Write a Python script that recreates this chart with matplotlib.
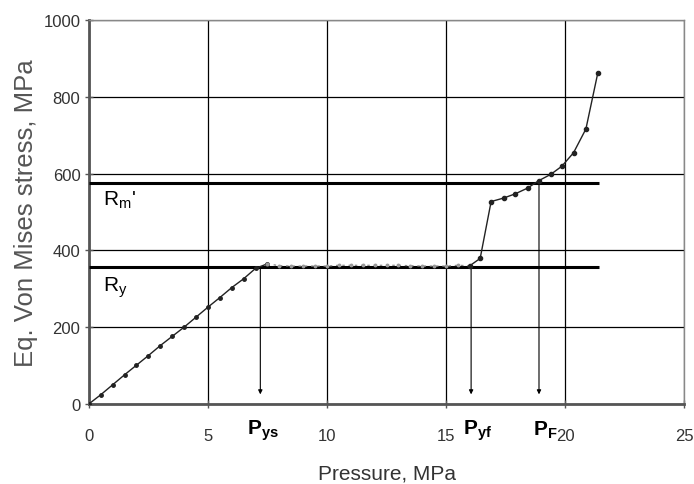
import numpy as np
import matplotlib.pyplot as plt

# data (pressure MPa, stress MPa)
p_elastic = [0, 0.5, 1.0, 1.5, 2.0, 2.5, 3.0, 3.5, 4.0, 4.5, 5.0, 5.5, 6.0, 6.5, 7.0, 7.5]
s_elastic = [0, 24, 50, 76, 101, 126, 152, 176, 200, 226, 252, 277, 303, 326, 353, 365]

p_plateau = [7.5, 8.0, 8.5, 9.0, 9.5, 10.0, 10.5, 11.0, 11.5, 12.0, 12.5, 13.0, 13.5, 14.0, 14.5, 15.0, 15.5, 16.0]
s_plateau = [365, 360, 359, 359, 359, 359, 361, 361, 361, 361, 361, 361, 360, 359, 359, 359, 361, 360]

p_hard = [16.0, 16.43, 16.89, 17.41, 17.9, 18.42, 18.88, 19.4, 19.86, 20.35, 20.87, 21.37]
s_hard = [360, 379, 527, 536, 547, 562, 581, 598, 619, 654, 716, 862]

Rm = 575
Ry = 357
limit_end = 21.4

P_ys = 7.2
P_yf = 16.05
P_F = 18.9

xticks = [0, 5, 10, 15, 20, 25]
yticks = [0, 200, 400, 600, 800, 1000]

fig = plt.figure(figsize=(6.94, 4.85), dpi=100)
ax = fig.add_axes([0.128, 0.165, 0.858, 0.792])

font = ['Liberation Sans', 'DejaVu Sans']
plt.rcParams['mathtext.fontset'] = 'custom'
plt.rcParams['mathtext.rm'] = 'Liberation Sans'
plt.rcParams['mathtext.bf'] = 'Liberation Sans:bold'

ax.plot(p_elastic, s_elastic, color='#222222', lw=1.0, marker='o', ms=2.5, zorder=4)
ax.plot(p_plateau, s_plateau, color='#888888', lw=0.9, ls=(0, (2, 3)), marker='o', ms=1.8,
        mfc='#999999', mec='#999999', zorder=4)
ax.plot(p_hard, s_hard, color='#222222', lw=1.0, marker='o', ms=3, zorder=4)

ax.hlines([Rm, Ry], 0, limit_end, colors='black', lw=2.2, zorder=3)

for px, top in [(P_ys, Ry), (P_yf, Ry), (P_F, Rm)]:
    ax.annotate('', xy=(px, 25), xytext=(px, top),
                arrowprops=dict(arrowstyle='-|>', color='black', lw=0.8,
                                mutation_scale=6, shrinkA=0, shrinkB=0), zorder=3)

ax.text(0.6, 532, r"R$_{\mathrm{m}}$'", fontsize=15, color='black', va='center', family=font)
ax.text(0.6, 305, r"R$_{\mathrm{y}}$", fontsize=15, color='black', va='center', family=font)

lab_y = -66
ax.text(6.64, lab_y, r"$\mathbf{P}_{\mathbf{ys}}$", fontsize=15, ha='left', va='center')
ax.text(15.72, lab_y, r"$\mathbf{P}_{\mathbf{yf}}$", fontsize=15, ha='left', va='center')
ax.text(18.65, lab_y, r"$\mathbf{P}_{\mathbf{F}}$", fontsize=15, ha='left', va='center')

ax.set_xlim(0, 25)
ax.set_ylim(0, 1000)
ax.set_xticks(xticks)
ax.set_yticks(yticks)
ax.set_xticklabels([str(t) for t in xticks], family=font, fontsize=12, color='#333333')
ax.set_yticklabels([str(t) for t in yticks], family=font, fontsize=12, color='#333333')
ax.tick_params(axis='both', direction='inout', length=6, width=1, color='#555555')
ax.tick_params(axis='x', pad=14)
ax.tick_params(axis='y', pad=3)

ax.grid(True, color='black', lw=0.9)
ax.set_axisbelow(True)
for side in ['top', 'right']:
    ax.spines[side].set_color('#888888')
    ax.spines[side].set_linewidth(1.0)
for side in ['left', 'bottom']:
    ax.spines[side].set_color('#555555')
    ax.spines[side].set_linewidth(2.0)

ax.set_xlabel('Pressure, MPa', family=font, fontsize=15, color='#333333', labelpad=15)
ax.set_ylabel('Eq. Von Mises stress, MPa', family=font, fontsize=18.5, color='#555555', labelpad=4)

fig.savefig('out.png', dpi=100)
